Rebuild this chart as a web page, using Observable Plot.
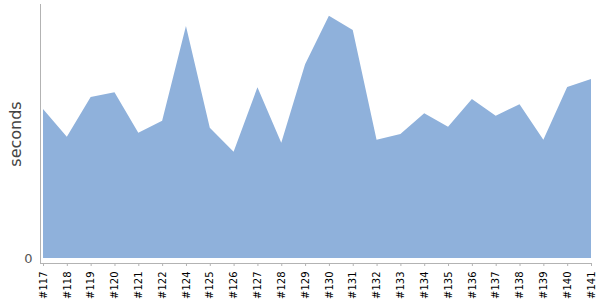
<!DOCTYPE html>
<html>
<head>
<meta charset="utf-8">
<script src="https://cdn.jsdelivr.net/npm/d3@7"></script>
<script src="https://cdn.jsdelivr.net/npm/@observablehq/plot@0.6"></script>
<style>
  html, body { margin: 0; padding: 0; background: #fff; }
</style>
</head>
<body>
<div id="chart"></div>
<script>
const builds = ["#117","#118","#119","#120","#121","#122","#124","#125","#126","#127","#128","#129","#130","#131","#132","#133","#134","#135","#136","#137","#138","#139","#140","#141"];
const seconds = [149,121.3,161,165.7,125.3,137.3,232,130.3,106.3,170.7,115.3,193.7,242.3,228,118.3,124,144.7,131.3,159,142.3,153.7,118.3,171,179];
const yTicks = [0];
const yMax = 254;

const data = builds.map((b, i) => ({build: b, value: seconds[i]}));

const chart = Plot.plot({
  width: 600,
  height: 300,
  marginTop: 4,
  marginBottom: 37,
  marginLeft: 40,
  marginRight: 9,
  x: {type: "point", domain: builds, padding: 0, round: false, insetLeft: 3},
  y: {domain: [0, yMax], insetBottom: 5},
  style: {fontFamily: "DejaVu Sans", background: "#fff"},
  marks: [
    Plot.areaY(data, {x: "build", y: "value", fill: "#8fb1db", curve: "linear"}),
    Plot.frame({anchor: "left", stroke: "#b3b3b3"}),
    Plot.frame({anchor: "bottom", stroke: "#b3b3b3"}),
    Plot.axisX({tickRotate: -90, tickSize: 3, tickPadding: 5, stroke: "#b3b3b3", fill: "#000", fontSize: 10, label: null}),
    Plot.axisY({ticks: yTicks, tickSize: 0, tickPadding: 8, fontSize: 13, fill: "#555", label: null}),
    Plot.axisY({ticks: [], label: "seconds", labelAnchor: "center", labelArrow: "none", labelOffset: 31, fontSize: 16, fill: "#444"})
  ]
});
document.getElementById("chart").appendChild(chart);
</script>
</body>
</html>
